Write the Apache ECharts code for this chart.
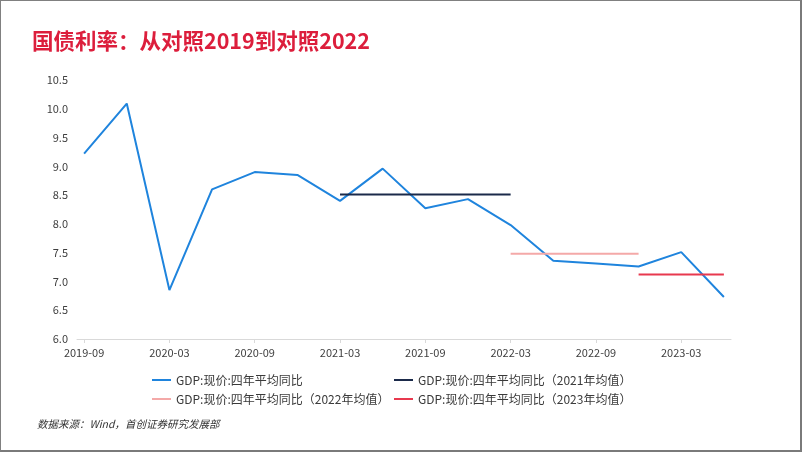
<!DOCTYPE html>
<html>
<head>
<meta charset="utf-8">
<script src="https://cdn.jsdelivr.net/npm/echarts@6/dist/echarts.min.js"></script>
<style>
html,body{margin:0;padding:0;background:#fff;}
#frame{position:absolute;left:0;top:0;width:802px;height:452px;box-sizing:border-box;border-top:1px solid #808080;border-left:1px solid #808080;border-right:2px solid #7a7a7a;border-bottom:2px solid #7a7a7a;}
#chart{position:absolute;left:0;top:0;width:802px;height:452px;}
</style>
</head>
<body>
<div id="frame"></div>
<div id="chart"></div>
<script>
// Monthly category axis (Excel-style date axis, monthly base unit)
var months = [
  '2019-09','2019-10','2019-11','2019-12',
  '2020-01','2020-02','2020-03','2020-04','2020-05','2020-06','2020-07','2020-08','2020-09','2020-10','2020-11','2020-12',
  '2021-01','2021-02','2021-03','2021-04','2021-05','2021-06','2021-07','2021-08','2021-09','2021-10','2021-11','2021-12',
  '2022-01','2022-02','2022-03','2022-04','2022-05','2022-06','2022-07','2022-08','2022-09','2022-10','2022-11','2022-12',
  '2023-01','2023-02','2023-03','2023-04','2023-05','2023-06'
];
// Quarterly observations
var quarters = ['2019-09','2019-12','2020-03','2020-06','2020-09','2020-12','2021-03','2021-06',
                '2021-09','2021-12','2022-03','2022-06','2022-09','2022-12','2023-03','2023-06'];
var gdpValues = [9.22, 10.09, 6.85, 8.60, 8.90, 8.85, 8.40, 8.96,
                 8.27, 8.43, 7.98, 7.36, 7.31, 7.26, 7.51, 6.73];

// Annual mean segments
var avgNames  = ['GDP:现价:四年平均同比（2021年均值）','GDP:现价:四年平均同比（2022年均值）','GDP:现价:四年平均同比（2023年均值）'];
var avgStart  = ['2021-03','2022-03','2022-12'];
var avgEnd    = ['2022-03','2022-12','2023-06'];
var avgValues = [8.51, 7.48, 7.12];
var avgColors = ['#1b2a4a','#f4a9a8','#e8394f'];

var mainName = 'GDP:现价:四年平均同比';
var yTicks = {min: 6.0, max: 10.5, interval: 0.5};

var FONT = "'Noto Sans CJK SC','Noto Sans',sans-serif";

var mainData = months.map(function(m){
  var i = quarters.indexOf(m);
  return i >= 0 ? gdpValues[i] : null;
});

var series = [{
  name: mainName,
  type: 'line',
  data: mainData,
  connectNulls: true,
  symbol: 'none',
  lineStyle: {color: '#1f84dd', width: 2},
  itemStyle: {color: '#1f84dd'}
}];
avgNames.forEach(function(n, k){
  series.push({
    name: n,
    type: 'line',
    data: [[months.indexOf(avgStart[k]), avgValues[k]], [months.indexOf(avgEnd[k]), avgValues[k]]],
    symbol: 'none',
    lineStyle: {color: avgColors[k], width: 2},
    itemStyle: {color: avgColors[k]}
  });
});

function mkLegend(name, left, top){
  return {
    data: [name], left: left, top: top, padding: 0,
    icon: 'rect', itemWidth: 19, itemHeight: 2,
    textStyle: {fontSize: 12, color: '#3a3a3a', fontFamily: FONT},
    selectedMode: false
  };
}

var chart = echarts.init(document.getElementById('chart'));
chart.setOption({
  animation: false,
  backgroundColor: 'transparent',
  title: [{
    text: '国债利率：从对照2019到对照2022',
    left: 32, top: 30, padding: 0,
    textStyle: {fontSize: 21.5, fontWeight: 'bold', color: '#dc1e3c', fontFamily: FONT}
  },{
    text: '数据来源：Wind，首创证券研究发展部',
    left: 37, top: 419, padding: 0,
    textStyle: {fontSize: 10.5, fontStyle: 'italic', fontWeight: 'normal', color: '#333', fontFamily: FONT}
  }],
  legend: [
    mkLegend(mainName, 152, 374),
    mkLegend(avgNames[0], 394, 374),
    mkLegend(avgNames[1], 152, 393),
    mkLegend(avgNames[2], 394, 393)
  ],
  grid: {left: 77, right: 71, top: 80, bottom: 113, containLabel: false},
  xAxis: {
    type: 'category',
    data: months,
    boundaryGap: true,
    axisLine: {show: true, lineStyle: {color: '#d9d9d9', width: 1}},
    axisTick: {show: true, interval: 5, alignWithLabel: true, length: 4, lineStyle: {color: '#d9d9d9'}},
    axisLabel: {interval: 5, fontSize: 11, color: '#404040', fontFamily: FONT, margin: 8},
    splitLine: {show: false}
  },
  yAxis: {
    type: 'value',
    min: yTicks.min, max: yTicks.max, interval: yTicks.interval,
    axisLine: {show: false},
    axisTick: {show: false},
    splitLine: {show: false},
    axisLabel: {fontSize: 11, color: '#404040', fontFamily: FONT, margin: 9,
      formatter: function(v){ return v.toFixed(1); }}
  },
  series: series
});
</script>
</body>
</html>
